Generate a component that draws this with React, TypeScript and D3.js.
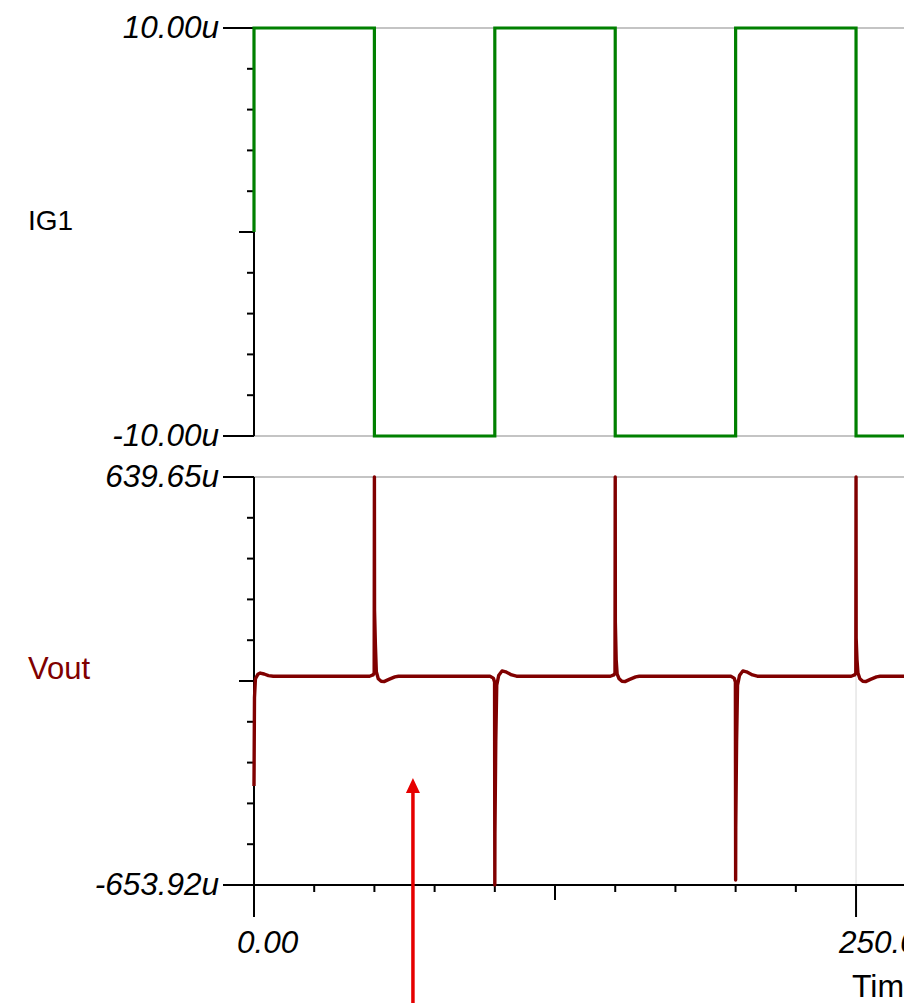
import React from 'react';
import * as d3 from 'd3';

// IG1 source current (uA), square wave: switching times and levels
const igTimes = [0, 0, 50, 100, 150, 200, 250, 270];
const igLevels = [0, 10, -10, 10, -10, 10, -10, -10];

// Vout (uV)
const voutT = [0, 0.2, 0.6, 1.6, 2.6, 4.2, 6, 8,
  48, 49.4, 49.9, 50, 50.05, 50.4, 50.8, 51.6, 52.8, 54, 56, 58.5, 60,
  98, 99.4, 99.9, 100, 100.05, 100.4, 100.8, 101.6, 103, 104.5, 107, 109,
  148, 149.4, 149.9, 150, 150.05, 150.4, 150.8, 151.6, 152.8, 154, 156, 158.5, 160,
  198, 199.4, 199.9, 200, 200.05, 200.4, 200.8, 201.6, 203, 204.5, 207, 209,
  248, 249.4, 249.9, 250, 250.05, 250.4, 250.8, 251.6, 252.8, 254, 256, 258.5, 260,
  270];
const voutV = [-340, -60, 0, 14, 18, 15, 10, 8,
  8, 12, 18, 639.65, 218, 110, 22, 0, -8, -9, -2, 6, 8,
  8, 2, -10, -653.92, -489, -200, -20, 10, 25, 22, 12, 8,
  8, 12, 18, 639.65, 180, 60, 15, 0, -8, -9, -2, 6, 8,
  8, 2, -10, -638, -470, -200, -20, 10, 25, 22, 12, 8,
  8, 12, 18, 639.65, 129, 60, 18, 0, -8, -9, -2, 6, 8,
  8];

const igDomain = [-10, 10];
const igTickLabels = ['-10.00u', '10.00u'];
const voutDomain = [-653.92, 639.65];
const voutTickLabels = ['-653.92u', '639.65u'];
const timeTicks = [0, 25, 50, 75, 100, 125, 150, 175, 200, 225, 250];
const timeLabels = ['0.00', '250.00u'];
const timeLabelAt = [0, 250];

// annotation arrow
const arrowT = 66;
const arrowTipV = -315;

const W = 904;
const H = 1003;
const FONT = 'Liberation Sans, Arial, sans-serif';

export default function App() {
  const x = d3.scaleLinear().domain([0, 270]).range([254, 904.2]);
  const yIg = d3.scaleLinear().domain(igDomain).range([436, 28]);
  const yV = d3.scaleLinear().domain(voutDomain).range([885, 477]);

  const igPts = igTimes.map((t, i) => [t, igLevels[i]] as [number, number]);
  const igLine = d3.line<[number, number]>()
    .x(d => x(d[0])).y(d => yIg(d[1]))
    .curve(d3.curveStepAfter);

  const vPts = voutT.map((t, i) => [t, voutV[i]] as [number, number]);
  const vLine = d3.line<[number, number]>()
    .x(d => x(d[0])).y(d => yV(d[1]));

  const x0 = x(0);
  const labelEnd = 219;
  const tickStart = 223;

  const panelTicks = (y: d3.ScaleLinear<number, number>, key: string) => {
    const [lo, hi] = y.domain();
    const vals = d3.range(11).map(i => lo + (hi - lo) * i / 10);
    return vals.map((v, i) => {
      if (i === 0 || i === 10) return null;
      const len = i === 5 ? 15 : 7;
      return <line key={key + i} x1={x0 - len} x2={x0} y1={y(v)} y2={y(v)} stroke="#000" strokeWidth={2} />;
    });
  };

  const panelEnds = (y: d3.ScaleLinear<number, number>, labels: string[], key: string, bottomIsAxis: boolean) => {
    const [lo, hi] = y.domain();
    return [lo, hi].map((v, i) => (
      <g key={key + i}>
        {!(bottomIsAxis && i === 0) && (
          <line x1={x0} x2={W} y1={y(v)} y2={y(v)} stroke="#c4c4c4" strokeWidth={2} />
        )}
        <line x1={tickStart} x2={bottomIsAxis && i === 0 ? W : x0} y1={y(v)} y2={y(v)} stroke="#000" strokeWidth={2} />
        <text x={labelEnd} y={y(v) + 10} textAnchor="end" fontStyle="italic" fontSize={31.5} fontFamily={FONT} fill="#000">
          {labels[i]}
        </text>
      </g>
    ));
  };

  return (
    <svg width={W} height={H} style={{ position: 'absolute', left: 0, top: 0, background: '#fff' }}>
      <rect width={W} height={H} fill="#fff" />
      {/* vertical grid at labelled time ticks */}
      {timeLabelAt.slice(1).map(t => (
        <g key={'vg' + t}>
          <line x1={x(t)} x2={x(t)} y1={yIg(10)} y2={yIg(-10)} stroke="#e6e6e6" strokeWidth={1.5} />
          <line x1={x(t)} x2={x(t)} y1={yV(voutDomain[1])} y2={yV(voutDomain[0])} stroke="#e6e6e6" strokeWidth={1.5} />
        </g>
      ))}

      {/* top panel */}
      {panelEnds(yIg, igTickLabels, 'ig', false)}
      <line x1={x0} x2={x0} y1={yIg(10)} y2={yIg(-10)} stroke="#000" strokeWidth={2} />
      {panelTicks(yIg, 'igt')}
      <text x={28} y={230} fontSize={28} fontFamily={FONT} fill="#000">IG1</text>

      {/* bottom panel */}
      {panelEnds(yV, voutTickLabels, 'v', true)}
      <line x1={x0} x2={x0} y1={yV(voutDomain[1])} y2={917} stroke="#000" strokeWidth={2} />
      {panelTicks(yV, 'vt')}
      <text x={28} y={679} fontSize={31} fontFamily={FONT} fill="#800000">Vout</text>

      {/* time axis ticks */}
      {timeTicks.map(t => {
        const big = timeLabelAt.includes(t);
        const len = big ? 32 : t === 125 ? 15 : 7;
        return <line key={'tt' + t} x1={x(t)} x2={x(t)} y1={yV(voutDomain[0])} y2={yV(voutDomain[0]) + len} stroke="#000" strokeWidth={2} />;
      })}
      {timeLabelAt.map((t, i) => (
        <text key={'tl' + t} x={x(t) - 17} y={953} fontStyle="italic" fontSize={31.5} fontFamily={FONT} fill="#000">
          {timeLabels[i]}
        </text>
      ))}
      <text x={852} y={997} fontSize={32} fontFamily={FONT} fill="#000">Time (s)</text>

      {/* traces */}
      <path d={igLine(igPts) || ''} fill="none" stroke="#008000" strokeWidth={3.2} strokeLinejoin="miter" />
      <path d={vLine(vPts) || ''} fill="none" stroke="#800000" strokeWidth={3.4} strokeLinejoin="round" />

      {/* red annotation arrow */}
      <line x1={x(arrowT)} x2={x(arrowT)} y1={H} y2={yV(arrowTipV) + 12} stroke="#e60000" strokeWidth={3.5} />
      <path
        d={`M${x(arrowT)},${yV(arrowTipV)} L${x(arrowT) - 7},${yV(arrowTipV) + 15} L${x(arrowT) + 7},${yV(arrowTipV) + 15} Z`}
        fill="#e60000"
      />
    </svg>
  );
}
